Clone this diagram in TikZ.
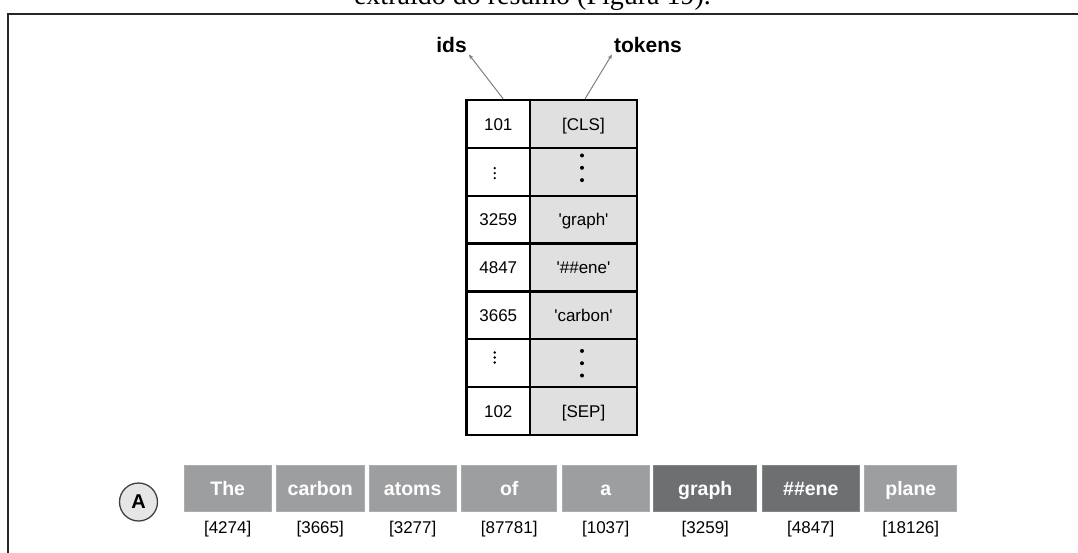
\documentclass[tikz,border=0pt]{standalone}
\usepackage{fontspec}
\setmainfont{Liberation Serif}
\newfontfamily\arial{Liberation Sans}
\usetikzlibrary{arrows.meta,calc}

\definecolor{cellgray}{RGB}{224,224,224}
\definecolor{toklight}{RGB}{157,158,160}
\definecolor{tokdark}{RGB}{109,111,113}
\definecolor{ptrgray}{RGB}{128,128,128}
\definecolor{badgegray}{RGB}{230,230,230}

\tikzset{
  idcell/.style={draw=black, line width=2.2pt, fill=white, minimum width=63.5pt,
    minimum height=47.86pt, inner sep=0pt, text height=12.2pt, text depth=0pt,
    font=\arial\fontsize{17}{20}\selectfont},
  tkcell/.style={idcell, fill=cellgray, minimum width=107pt},
  colhead/.style={font=\arial\bfseries\fontsize{21}{24}\selectfont, anchor=base, inner sep=2pt},
  ptr/.style={draw=ptrgray, line width=1pt, -{Stealth[length=5pt,width=4pt]}},
  tok/.style={fill=#1, draw=#1!85!white, line width=0.8pt, minimum height=46.7pt, inner sep=0pt,
    text height=15pt, text depth=1pt, text=white,
    font=\arial\bfseries\fontsize{19.5}{22}\selectfont},
  tokid/.style={font=\arial\fontsize{17}{20}\selectfont, inner sep=0pt,
    text height=12.2pt, text depth=0pt},
  smalldot/.style={fill=black, draw=none, circle, minimum size=2.6pt, inner sep=0pt},
  bigdot/.style={fill=black, draw=none, circle, minimum size=4pt, inner sep=0pt},
  badge/.style={circle, draw=black!75, line width=1.3pt, fill=badgegray, minimum size=38pt,
    inner sep=0pt, font=\arial\bfseries\fontsize{20}{22}\selectfont}
}

\begin{document}
\begin{tikzpicture}[x=1pt, y=-1pt]
\useasboundingbox (0,0) rectangle (1078,552);
\clip (0,0) rectangle (1078,552);
\fill[white] (0,0) rectangle (1078,552);

% caption line above the frame
\node[anchor=base, inner sep=0pt, font=\fontsize{28}{32}\selectfont] (caption) at (532.5,4)
  {extraído do resumo (Figura 19).};

% outer frame
\draw[line width=2pt, black!85] (8.3,600) -- (8.3,13.7) -- (1100,13.7);

% vocabulary table
\foreach \i/\idtxt/\tktxt in {0/101/[CLS], 1//, 2/3259/'graph', 3/4847/'\#\#ene',
                              4/3665/'carbon', 5//, 6/102/[SEP]} {
  \node[idcell] (id\i) at (498.25, 123.93+47.86*\i) {\idtxt};
  \node[tkcell] (tk\i) at (583.5, 123.93+47.86*\i) {\tktxt};
}

% elided rows
\foreach \dy in {-5,0,5} \node[smalldot] at ($(id1.center)+(-3.5,\dy+1.3)$) {};
\foreach \dy in {-12.3,0,12.3} \node[bigdot] at ($(tk1.center)+(-1.5,\dy-4)$) {};
\foreach \dy in {-5,0,5} \node[smalldot] at ($(id5.center)+(-3.5,\dy-5.7)$) {};
\foreach \dy in {-12.3,0,12.3} \node[bigdot] at ($(tk5.center)+(-1.5,\dy)$) {};

% column labels
\node[colhead] (ids) at (451.5,52) {ids};
\node[colhead] (tokens) at (648,52) {tokens};
\draw[ptr] ([xshift=5pt]id0.north) -- (ids.south east);
\draw[ptr] ([xshift=1.5pt]tk0.north) -- (tokens.south west);

% tokenized sentence
\node[badge] (A) at (138.5,502) {A};
\foreach \n/\x/\w/\c/\t/\v in {
    t1/227.7/87/toklight/The/4274,
    t2/320.2/88/toklight/carbon/3665,
    t3/412.7/87/toklight/atoms/3277,
    t4/509.2/95/toklight/of/87781,
    t5/605.7/87/toklight/a/1037,
    t6/705.3/103/tokdark/graph/3259,
    t7/810.8/97/tokdark/\#\#ene/4847,
    t8/910.8/92/toklight/plane/18126} {
  \node[tok=\c, minimum width=\w pt] (\n) at (\x,488.3) {\t};
  \node[tokid] (\n id) at (\x,527) {[\v]};
}
\end{tikzpicture}
\end{document}
